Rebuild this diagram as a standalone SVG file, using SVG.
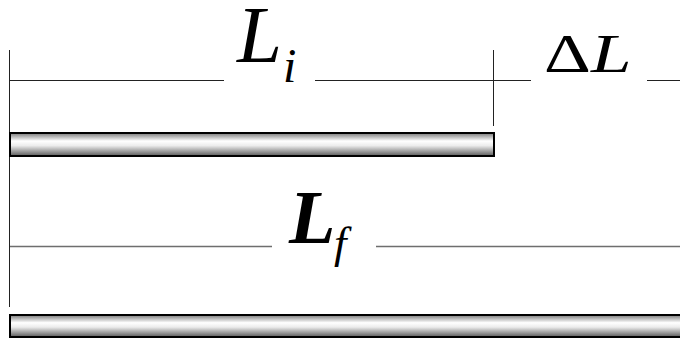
<svg xmlns="http://www.w3.org/2000/svg" width="680" height="338" viewBox="0 0 680 338">
  <defs>
    <linearGradient id="rod" x1="0" y1="0" x2="0" y2="1">
      <stop offset="0" stop-color="#7a7a7a"/>
      <stop offset="0.35" stop-color="#ffffff"/>
      <stop offset="0.55" stop-color="#ececec"/>
      <stop offset="1" stop-color="#5a5a5a"/>
    </linearGradient>
    <style>
      .dim { stroke: #222; stroke-width: 1; fill: none; }
      .dim2 { stroke: #6e6e6e; stroke-width: 1.5; fill: none; }
      .rod { fill: url(#rod); stroke: #000; stroke-width: 2; }
      .lbl { font-family: "Liberation Serif", "Times New Roman", serif; font-style: italic; fill: #000; }
    </style>
  </defs>
  <rect width="680" height="338" fill="#fff"/>
  <g id="connectors">
    <line class="dim" x1="9.5" y1="50" x2="9.5" y2="307"/>
    <line class="dim" x1="493.5" y1="50" x2="493.5" y2="126"/>
    <line class="dim" x1="10" y1="80.5" x2="224" y2="80.5"/>
    <line class="dim" x1="315" y1="80.5" x2="531" y2="80.5"/>
    <line class="dim" x1="647" y1="80.5" x2="680" y2="80.5"/>
    <line class="dim2" x1="10" y1="246.5" x2="272" y2="246.5"/>
    <line class="dim2" x1="376" y1="246.5" x2="680" y2="246.5"/>
  </g>
  <g id="rod-initial">
    <rect class="rod" x="10" y="133" width="484" height="23"/>
  </g>
  <g id="rod-final">
    <rect class="rod" x="10" y="315" width="690" height="22"/>
  </g>
  <g id="label-Li">
    <text class="lbl" x="237" y="62" font-size="81">L</text>
    <text class="lbl" x="283" y="82" font-size="48">i</text>
  </g>
  <g id="label-dL">
    <text class="lbl" transform="translate(544,72) scale(1.35,1)" font-size="54"><tspan font-style="normal">Δ</tspan>L</text>
  </g>
  <g id="label-Lf">
    <text class="lbl" x="289" y="243" font-size="76" font-weight="bold">L</text>
    <text class="lbl" x="334" y="258" font-size="45">f</text>
  </g>
</svg>
